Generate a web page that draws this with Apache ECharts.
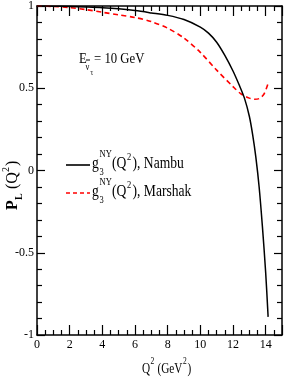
<!DOCTYPE html>
<html>
<head>
<meta charset="utf-8">
<script src="https://cdn.jsdelivr.net/npm/echarts@6/dist/echarts.min.js"></script>
<style>
html,body{margin:0;padding:0;background:#fff;}
#c{width:284px;height:382px;}
</style>
</head>
<body>
<div id="c"></div>
<script>
// Data
var q2Nambu = [0, 1, 2, 3, 4, 5, 6, 7, 8, 9, 10, 10.5, 11, 11.5, 12, 12.4, 12.7, 13.0, 13.2, 13.4, 13.6, 13.8, 14.0, 14.15];
var pNambu  = [1, 0.999, 0.997, 0.994, 0.99, 0.983, 0.972, 0.958, 0.943, 0.918, 0.872, 0.835, 0.78, 0.70, 0.605, 0.515, 0.44, 0.33, 0.22, 0.08, -0.10, -0.34, -0.62, -0.89];
var q2Marshak = [0, 1, 2, 3, 4, 5, 6, 7, 8, 9, 10, 11, 12, 12.5, 13, 13.3, 13.6, 13.9, 14.15];
var pMarshak  = [1, 0.997, 0.99, 0.978, 0.962, 0.946, 0.93, 0.905, 0.865, 0.805, 0.718, 0.61, 0.51, 0.465, 0.44, 0.433, 0.437, 0.465, 0.53];
var xTicks = [0, 2, 4, 6, 8, 10, 12, 14];
var yTicks = [-1, -0.5, 0, 0.5, 1];

function pairs(xs, ys){ return xs.map(function(x,i){ return [x, ys[i]]; }); }

var FONT = '"Liberation Serif", "DejaVu Serif", serif';
var chart = echarts.init(document.getElementById('c'), null, {renderer:'canvas'});

function axLine(){ return {show:true, onZero:false, lineStyle:{color:'#000', width:1.5}}; }
function xAx(pos, labels){
  return {
    type:'value', position:pos, min:0, max:15, interval:2,
    axisLine: axLine(),
    axisTick:{show:true, inside:true, length:10, lineStyle:{color:'#000', width:1.2}},
    minorTick:{show:true, splitNumber:4, length:5, lineStyle:{color:'#000', width:1.2}},
    splitLine:{show:false},
    axisLabel:{show:labels, showMaxLabel:false, fontFamily:FONT, fontSize:12, color:'#000', margin:4,
      formatter:function(v){ return xTicks.indexOf(v) >= 0 ? String(v) : ''; }}
  };
}
function yAx(pos, labels){
  return {
    type:'value', position:pos, min:-1, max:1, interval:0.5,
    axisLine: axLine(),
    axisTick:{show:true, inside:true, length:8, lineStyle:{color:'#000', width:1.2}},
    minorTick:{show:true, splitNumber:5, length:5, lineStyle:{color:'#000', width:1.2}},
    splitLine:{show:false},
    axisLabel:{show:labels, fontFamily:FONT, fontSize:12, color:'#000', margin:3,
      formatter:function(v){ return yTicks.indexOf(v) >= 0 ? String(v) : ''; }}
  };
}

var gtext = function(x, y, t, size, extra){
  extra = extra || {};
  return {type:'text', x:x, y:y, scaleX:(extra.sx || 0.85),
    style:{text:t, font:(extra.bold ? 'bold ' : '') + size + 'px ' + FONT, fill:'#000', textVerticalAlign:'middle', verticalAlign:'middle', textAlign:'left', align:'left'}};
};

var graphics = [
  // Energy label
  gtext(79, 59, 'E', 15),
  {type:'line', shape:{x1:86, y1:60, x2:90, y2:60}, style:{stroke:'#000', lineWidth:1}},
  gtext(85.5, 67, 'ν', 10),
  gtext(90.5, 73, 'τ', 8),
  gtext(94, 59, '= 10 GeV', 15),
  // Legend: Nambu
  {type:'line', shape:{x1:66, y1:165, x2:90, y2:165}, style:{stroke:'#000', lineWidth:1.6}},
  gtext(92, 164, 'g', 16),
  gtext(99.5, 172, '3', 10),
  gtext(99.5, 154, 'NY', 10),
  gtext(112, 164, '(Q', 16),
  gtext(127, 157, '2', 10),
  gtext(132.5, 164, '), Nambu', 16),
  // Legend: Marshak
  {type:'line', shape:{x1:66, y1:193, x2:90, y2:193}, style:{stroke:'#ff0000', lineWidth:1.6, lineDash:[4,3]}},
  gtext(92, 192, 'g', 16),
  gtext(99.5, 200, '3', 10),
  gtext(99.5, 182, 'NY', 10),
  gtext(112, 192, '(Q', 16),
  gtext(127, 185, '2', 10),
  gtext(132.5, 192, '), Marshak', 16),
  // X axis title
  gtext(142, 369, 'Q', 15, {sx:0.75}),
  gtext(150.5, 361, '2', 10, {sx:0.75}),
  gtext(157.5, 369, '(GeV', 15, {sx:0.75}),
  gtext(183, 361, '2', 10, {sx:0.75}),
  gtext(187.5, 369, ')', 15, {sx:0.75}),
  // Y axis title (rotated)
  {type:'group', x:13, y:176, rotation:Math.PI/2, children:[
    gtext(-34, 0, 'P', 16, {bold:true, sx:1}),
    gtext(-24, 6, 'L', 10, {bold:true, sx:1}),
    gtext(-13, 0, '(Q', 16, {sx:1}),
    gtext(4, -7, '2', 10, {sx:1}),
    gtext(10, 0, ')', 16, {sx:1})
  ]}
];

chart.setOption({
  animation:false,
  backgroundColor:'#fff',
  grid:{left:37, right:2, top:6, bottom:47, containLabel:false},
  xAxis:[xAx('bottom', true), xAx('top', false)],
  yAxis:[yAx('left', true), yAx('right', false)],
  series:[
    {type:'line', name:'Marshak', data:pairs(q2Marshak, pMarshak), smooth:0.3, showSymbol:false,
      lineStyle:{color:'#ff0000', width:1.6, type:[5,3.5]}, z:2},
    {type:'line', name:'Nambu', data:pairs(q2Nambu, pNambu), smooth:0.3, showSymbol:false,
      lineStyle:{color:'#000', width:1.5}, z:3}
  ],
  graphic:graphics
});
</script>
</body>
</html>
